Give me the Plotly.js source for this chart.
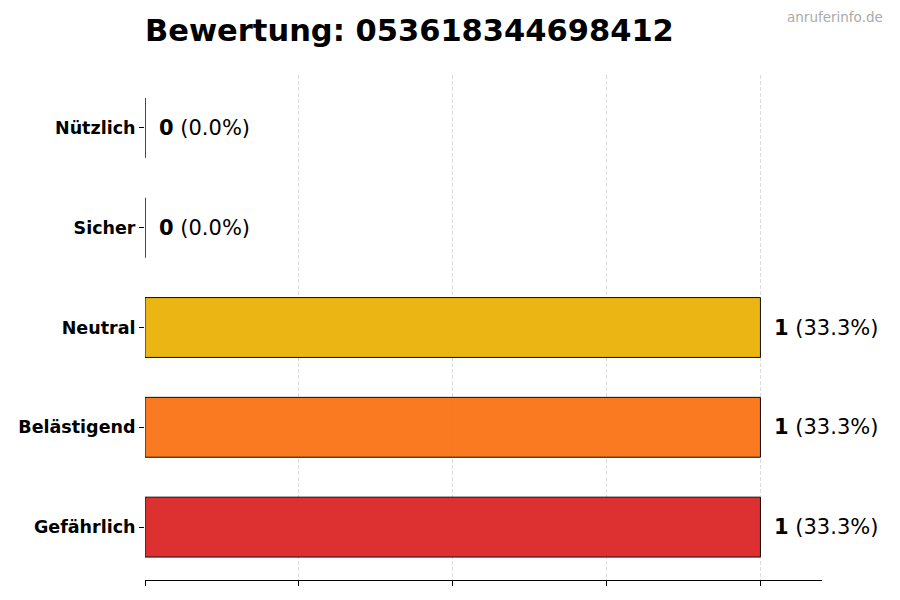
<!DOCTYPE html>
<html>
<head>
<meta charset="utf-8">
<script src="https://cdn.plot.ly/plotly-3.0.1.min.js"></script>
<style>html,body{margin:0;padding:0;background:#fff;}#chart{width:900px;height:600px;}</style>
</head>
<body>
<div id="chart"></div>
<script>
const categories = ["Gefährlich", "Belästigend", "Neutral", "Sicher", "Nützlich"];
const counts = [1, 1, 1, 0, 0];
const percents = [33.3, 33.3, 33.3, 0.0, 0.0];
const colors = ["#dc2626", "#f97316", "#eab308", "#22c55e", "#16a34a"];
const titleText = "Bewertung: 053618344698412";
const watermark = "anruferinfo.de";

const trace = {
  type: "bar",
  orientation: "h",
  x: counts,
  y: categories,
  width: 0.6,
  marker: { color: colors, opacity: 0.95, line: { color: "#000", width: 1 } },
  hoverinfo: "none"
};

const annotations = categories.map((c, i) => ({
  x: counts[i], y: c, xref: "x", yref: "y",
  text: "<b>" + counts[i] + "</b> (" + percents[i].toFixed(1) + "%)",
  showarrow: false, xanchor: "left", xshift: 12, yanchor: "middle",
  font: { family: "DejaVu Sans", size: 21, color: "#000" }
}));
annotations.push({
  xref: "paper", yref: "paper", x: 1.0, y: 1.0,
  xanchor: "right", yanchor: "bottom", xshift: 63, yshift: 48,
  text: watermark, showarrow: false,
  font: { family: "DejaVu Sans", size: 13.5, color: "#aaaaaa" }
});

const layout = {
  width: 900, height: 600,
  margin: { l: 145, r: 78, t: 75, b: 20 },
  paper_bgcolor: "#fff", plot_bgcolor: "rgba(0,0,0,0)",
  showlegend: false,
  title: {
    text: "<b>" + titleText + "</b>",
    x: 145 / 900, xanchor: "left", xref: "container",
    y: 1 - 30 / 600, yanchor: "middle", yref: "container",
    font: { family: "DejaVu Sans", size: 30.5, color: "#000" }
  },
  xaxis: {
    range: [0, 1.1], dtick: 0.25, tick0: 0,
    showticklabels: false, ticks: "outside", ticklen: 5, tickcolor: "#000", tickwidth: 1,
    showline: true, linecolor: "#000", linewidth: 1,
    showgrid: true, gridcolor: "#dcdcdc", griddash: "4px,2px", gridwidth: 1,
    zeroline: false, fixedrange: true
  },
  yaxis: {
    type: "category", categoryorder: "array", categoryarray: categories,
    range: [-0.53, 4.53],
    ticks: "outside", ticklen: 5, tickcolor: "#000", tickwidth: 1,
    showline: false, showgrid: false, zeroline: false,
    tickfont: { family: "DejaVu Sans", size: 17.5, color: "#000", weight: "bold" },
    ticklabelstandoff: 0
  },
  annotations: annotations
};

Plotly.newPlot("chart", [trace], layout, { displayModeBar: false, staticPlot: true });
</script>
</body>
</html>
